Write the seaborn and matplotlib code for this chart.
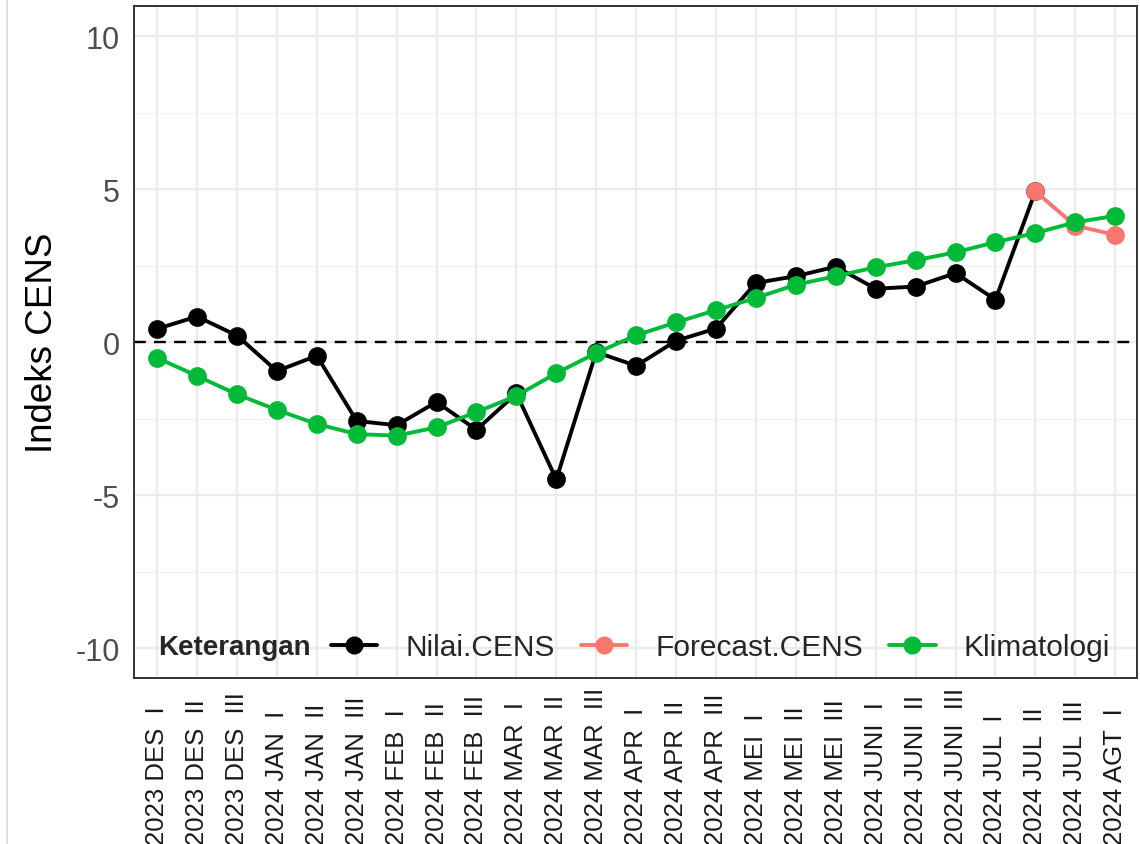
import numpy as np
import pandas as pd
import seaborn as sns
import matplotlib.pyplot as plt
from matplotlib.lines import Line2D

# Periode dasarian (label memakai dua spasi sebelum angka romawi)
labels = ["2023 DES  I", "2023 DES  II", "2023 DES  III",
          "2024 JAN  I", "2024 JAN  II", "2024 JAN  III",
          "2024 FEB  I", "2024 FEB  II", "2024 FEB  III",
          "2024 MAR  I", "2024 MAR  II", "2024 MAR  III",
          "2024 APR  I", "2024 APR  II", "2024 APR  III",
          "2024 MEI  I", "2024 MEI  II", "2024 MEI  III",
          "2024 JUNI  I", "2024 JUNI  II", "2024 JUNI  III",
          "2024 JUL  I", "2024 JUL  II", "2024 JUL  III", "2024 AGT  I"]

nilai_cens = [0.44, 0.84, 0.22, -0.94, -0.44, -2.57, -2.71, -1.95, -2.86,
              -1.67, -4.48, -0.32, -0.77, 0.05, 0.45, 1.94, 2.16, 2.47,
              1.75, 1.82, 2.26, 1.39, 4.93]
forecast_cens = [4.93, 3.81, 3.51]
forecast_start = 22
klimatologi = [-0.51, -1.10, -1.70, -2.21, -2.67, -3.00, -3.05, -2.78, -2.28,
               -1.75, -1.01, -0.35, 0.23, 0.65, 1.05, 1.45, 1.88, 2.16,
               2.45, 2.68, 2.94, 3.27, 3.57, 3.92, 4.13]

series_names = ["Nilai.CENS", "Forecast.CENS", "Klimatologi"]
colors = ["#000000", "#F8766D", "#00BA38"]

x = np.arange(len(labels))
df = pd.concat([
    pd.DataFrame({"x": x[:len(nilai_cens)], "y": nilai_cens, "Keterangan": series_names[0]}),
    pd.DataFrame({"x": x[forecast_start:forecast_start + len(forecast_cens)], "y": forecast_cens,
                  "Keterangan": series_names[1]}),
    pd.DataFrame({"x": x, "y": klimatologi, "Keterangan": series_names[2]}),
])

sns.set_style("white")
plt.rcParams["font.family"] = ["Liberation Sans", "DejaVu Sans"]
plt.rcParams["axes.unicode_minus"] = False

fig = plt.figure(figsize=(11.4, 8.45), dpi=100)
ax = fig.add_axes([0.1175, 0.196, 0.8800, 0.7955])

ax.axhline(0, color="black", linestyle=(0, (5, 3.5)), linewidth=1.7, zorder=1)

sns.lineplot(data=df, x="x", y="y", hue="Keterangan", hue_order=series_names,
             palette=colors, marker="o", markersize=13.5, markeredgewidth=0,
             linewidth=2.8, legend=False, ax=ax, zorder=3)

ax.set_xlim(-0.58, len(labels) - 0.45)
ax.set_ylim(-10.98, 10.98)
ax.set_xticks(x)
ax.set_xticklabels(labels)
ax.set_yticks([-10, -5, 0, 5, 10])
ax.set_yticks([-7.5, -2.5, 2.5, 7.5], minor=True)
ax.set_xlabel("")
ax.set_ylabel("Indeks CENS", fontsize=26.5, color="black")
ax.yaxis.set_label_coords(-0.074, 0.5)

ax.grid(True, which="major", color="#EBEBEB", linewidth=1.6, zorder=0)
ax.grid(True, which="minor", axis="y", color="#F2F2F2", linewidth=0.9, zorder=0)
ax.set_axisbelow(True)
for s in ax.spines.values():
    s.set_color("#333333")
    s.set_linewidth(1.4)

ax.tick_params(axis="y", which="major", length=5.5, width=1.2, color="#333333",
               labelsize=22, labelcolor="#4D4D4D", pad=4.5)
ax.tick_params(axis="y", which="minor", length=0)
ax.tick_params(axis="x", length=5.5, width=1.2, color="#333333",
               labelsize=18.5, labelcolor="#1A1A1A", pad=114)
for lab in ax.get_xticklabels():
    lab.set_rotation(90)
    lab.set_va("bottom")
    lab.set_ha("center")

# legend inside the panel, horizontal, title on the left
handles = [Line2D([], [], color=c, marker="o", markersize=13, markeredgewidth=0, linewidth=2.8)
           for c in colors]
leg = ax.legend(handles, series_names, ncol=3, loc="center left",
                bbox_to_anchor=(0.196, 0.046), frameon=False, fontsize=21.5,
                handlelength=1.57, handletextpad=0.93, columnspacing=0.87,
                borderaxespad=0, borderpad=0)
ax.text(0.024, 0.046, "Keterangan", transform=ax.transAxes, fontsize=20,
        fontweight="bold", va="center", ha="left")

fig.add_artist(Line2D([0.0065, 0.0065], [0, 1], transform=fig.transFigure,
                      color="#D9D9D9", linewidth=1.2))

fig.savefig("out.png", dpi=100)
